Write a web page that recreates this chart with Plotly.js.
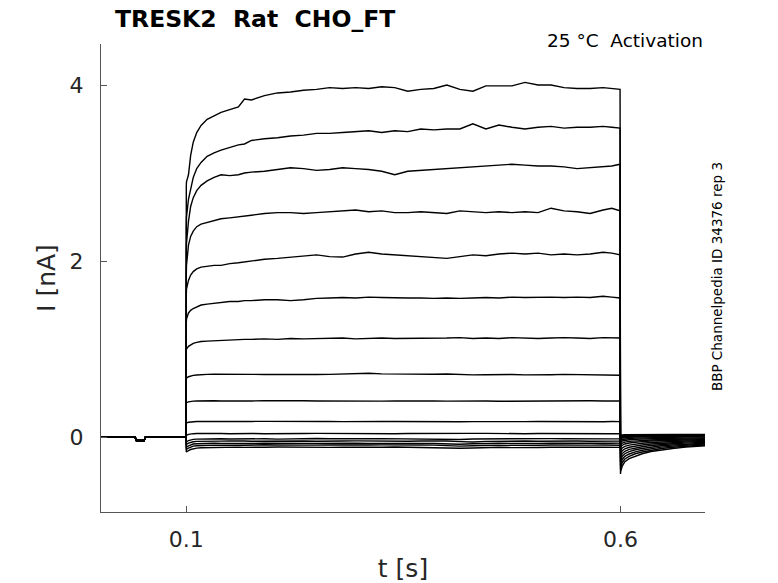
<!DOCTYPE html>
<html>
<head>
<meta charset="utf-8">
<script src="https://cdn.plot.ly/plotly-3.0.1.min.js"></script>
<style>
  html, body { margin: 0; padding: 0; background: #fff; }
  #plot { width: 778px; height: 583px; }
</style>
</head>
<body>
<div id="plot"></div>
<script>
// time points (s) shared by all sweeps
var preT = [0.0017, 0.02, 0.041, 0.0425, 0.0515, 0.053, 0.075, 0.0999];
var preI = [0, 0.003, 0, -0.04, -0.04, 0, 0.002, 0];

var stepT = [0.1, 0.1002, 0.1025, 0.105, 0.108, 0.112, 0.117, 0.124, 0.132, 0.14,
  0.15, 0.16, 0.167, 0.175, 0.19, 0.205, 0.22, 0.235, 0.25, 0.265, 0.28, 0.295,
  0.31, 0.325, 0.34, 0.355, 0.37, 0.385, 0.4, 0.415, 0.43, 0.445, 0.46, 0.475,
  0.49, 0.505, 0.52, 0.535, 0.55, 0.565, 0.58, 0.59, 0.5995];

var tailT = [0.6, 0.6003, 0.602, 0.605, 0.61, 0.617, 0.625, 0.635, 0.647, 0.66, 0.675, 0.69, 0.6973];

// current during the test step (nA), one array per sweep
var step_1 = [2.85, 2.9, 2.98, 3.2, 3.35, 3.46, 3.54, 3.61, 3.65, 3.69, 3.72, 3.75, 3.84, 3.83, 3.88, 3.91, 3.92, 3.94, 3.95, 3.97, 3.96, 3.97, 3.96, 3.98, 3.97, 3.93, 3.95, 3.96, 4.0, 3.95, 3.93, 3.99, 3.99, 3.99, 4.03, 4.0, 4.0, 3.97, 3.96, 3.96, 3.97, 3.96, 3.95];
var step_2 = [2.4, 2.5, 2.7, 2.82, 2.95, 3.05, 3.12, 3.19, 3.23, 3.26, 3.29, 3.32, 3.33, 3.37, 3.39, 3.4, 3.42, 3.43, 3.45, 3.45, 3.46, 3.47, 3.48, 3.46, 3.48, 3.47, 3.5, 3.49, 3.5, 3.5, 3.56, 3.5, 3.545, 3.52, 3.5, 3.52, 3.53, 3.51, 3.52, 3.52, 3.53, 3.52, 3.51];
var step_3 = [2.1, 2.2, 2.45, 2.62, 2.72, 2.8, 2.86, 2.91, 2.95, 2.98, 2.97, 2.98, 3.0, 3.01, 3.02, 3.04, 3.06, 3.05, 3.03, 3.04, 3.06, 3.05, 3.04, 3.02, 2.98, 3.02, 3.03, 3.04, 3.05, 3.06, 3.07, 3.08, 3.09, 3.1, 3.09, 3.08, 3.08, 3.07, 3.05, 3.06, 3.07, 3.08, 3.1];
var step_4 = [1.85, 1.95, 2.18, 2.28, 2.34, 2.39, 2.42, 2.44, 2.46, 2.48, 2.49, 2.5, 2.51, 2.52, 2.54, 2.55, 2.55, 2.54, 2.55, 2.56, 2.57, 2.58, 2.56, 2.57, 2.55, 2.55, 2.56, 2.55, 2.54, 2.57, 2.56, 2.55, 2.56, 2.55, 2.56, 2.55, 2.6, 2.57, 2.56, 2.54, 2.58, 2.6, 2.57];
var step_5 = [1.62, 1.68, 1.78, 1.84, 1.88, 1.91, 1.93, 1.94, 1.95, 1.95, 1.97, 1.98, 1.99, 2.0, 2.02, 2.03, 2.045, 2.06, 2.07, 2.05, 2.045, 2.08, 2.1, 2.08, 2.07, 2.06, 2.05, 2.04, 2.03, 2.05, 2.07, 2.06, 2.08, 2.09, 2.08, 2.09, 2.07, 2.08, 2.07, 2.08, 2.1, 2.09, 2.07];
var step_6 = [1.3, 1.34, 1.41, 1.44, 1.46, 1.48, 1.5, 1.51, 1.52, 1.53, 1.54, 1.54, 1.55, 1.55, 1.56, 1.56, 1.55, 1.56, 1.575, 1.58, 1.585, 1.58, 1.59, 1.585, 1.58, 1.58, 1.58, 1.575, 1.58, 1.575, 1.58, 1.585, 1.58, 1.59, 1.585, 1.59, 1.59, 1.585, 1.59, 1.585, 1.6, 1.59, 1.58];
var step_7 = [0.98, 1.0, 1.03, 1.05, 1.065, 1.075, 1.085, 1.09, 1.095, 1.1, 1.1, 1.105, 1.11, 1.11, 1.115, 1.11, 1.12, 1.115, 1.12, 1.12, 1.125, 1.115, 1.12, 1.125, 1.12, 1.12, 1.125, 1.12, 1.125, 1.13, 1.12, 1.125, 1.12, 1.13, 1.125, 1.12, 1.125, 1.13, 1.125, 1.12, 1.13, 1.125, 1.125];
var step_8 = [0.66, 0.67, 0.685, 0.695, 0.7, 0.705, 0.71, 0.712, 0.715, 0.716, 0.716, 0.714, 0.716, 0.712, 0.71, 0.708, 0.706, 0.705, 0.71, 0.712, 0.715, 0.72, 0.724, 0.718, 0.716, 0.712, 0.71, 0.714, 0.716, 0.71, 0.706, 0.708, 0.712, 0.71, 0.706, 0.704, 0.708, 0.712, 0.708, 0.704, 0.706, 0.705, 0.702];
var step_9 = [0.385, 0.39, 0.4, 0.405, 0.408, 0.41, 0.412, 0.414, 0.412, 0.41, 0.412, 0.415, 0.413, 0.41, 0.412, 0.414, 0.416, 0.412, 0.41, 0.408, 0.41, 0.412, 0.41, 0.408, 0.41, 0.412, 0.414, 0.41, 0.408, 0.41, 0.412, 0.41, 0.406, 0.408, 0.41, 0.412, 0.41, 0.408, 0.41, 0.412, 0.41, 0.408, 0.41];
var step_10 = [0.155, 0.16, 0.168, 0.172, 0.175, 0.176, 0.178, 0.177, 0.175, 0.176, 0.178, 0.176, 0.175, 0.177, 0.178, 0.176, 0.174, 0.176, 0.178, 0.176, 0.175, 0.173, 0.175, 0.177, 0.176, 0.174, 0.176, 0.178, 0.176, 0.174, 0.175, 0.177, 0.176, 0.174, 0.175, 0.176, 0.174, 0.176, 0.177, 0.175, 0.174, 0.176, 0.175];
var step_11 = [0.015, 0.02, 0.03, 0.035, 0.038, 0.04, 0.041, 0.04, 0.042, 0.04, 0.038, 0.04, 0.042, 0.04, 0.038, 0.036, 0.038, 0.04, 0.042, 0.04, 0.038, 0.04, 0.041, 0.039, 0.037, 0.04, 0.042, 0.04, 0.038, 0.04, 0.042, 0.041, 0.038, 0.036, 0.038, 0.04, 0.041, 0.04, 0.038, 0.04, 0.039, 0.038, 0.037];
var step_12 = [-0.06, -0.055, -0.04, -0.032, -0.027, -0.024, -0.022, -0.02, -0.018, -0.02, -0.022, -0.02, -0.018, -0.016, -0.02, -0.024, -0.02, -0.018, -0.016, -0.02, -0.022, -0.025, -0.02, -0.018, -0.02, -0.022, -0.018, -0.02, -0.024, -0.028, -0.022, -0.02, -0.018, -0.02, -0.022, -0.02, -0.018, -0.02, -0.022, -0.02, -0.019, -0.021, -0.02];
var step_13 = [-0.09, -0.085, -0.07, -0.06, -0.054, -0.05, -0.048, -0.046, -0.045, -0.047, -0.044, -0.042, -0.045, -0.048, -0.046, -0.044, -0.042, -0.045, -0.048, -0.05, -0.046, -0.044, -0.046, -0.043, -0.045, -0.048, -0.045, -0.042, -0.046, -0.052, -0.056, -0.05, -0.046, -0.044, -0.046, -0.048, -0.045, -0.043, -0.046, -0.048, -0.045, -0.044, -0.046];
var step_14 = [-0.12, -0.115, -0.1, -0.088, -0.08, -0.076, -0.073, -0.071, -0.07, -0.072, -0.07, -0.068, -0.07, -0.073, -0.071, -0.069, -0.07, -0.072, -0.074, -0.07, -0.068, -0.07, -0.073, -0.071, -0.068, -0.07, -0.072, -0.074, -0.078, -0.082, -0.076, -0.072, -0.07, -0.073, -0.076, -0.072, -0.07, -0.068, -0.07, -0.072, -0.07, -0.071, -0.07];
var step_15 = [-0.145, -0.14, -0.125, -0.112, -0.104, -0.099, -0.096, -0.094, -0.092, -0.093, -0.09, -0.092, -0.094, -0.09, -0.088, -0.091, -0.094, -0.096, -0.092, -0.09, -0.093, -0.095, -0.091, -0.089, -0.092, -0.094, -0.09, -0.092, -0.098, -0.104, -0.1, -0.094, -0.092, -0.095, -0.098, -0.094, -0.091, -0.093, -0.095, -0.092, -0.09, -0.092, -0.093];
var step_16 = [-0.17, -0.168, -0.155, -0.142, -0.132, -0.126, -0.122, -0.12, -0.118, -0.12, -0.117, -0.115, -0.118, -0.12, -0.116, -0.114, -0.117, -0.12, -0.122, -0.118, -0.115, -0.117, -0.12, -0.116, -0.114, -0.118, -0.121, -0.118, -0.122, -0.128, -0.124, -0.118, -0.116, -0.12, -0.123, -0.119, -0.116, -0.118, -0.12, -0.117, -0.115, -0.117, -0.118];

// tail currents after the step (nA)
var tail_1 = [-0.42, -0.39, -0.33, -0.28, -0.245, -0.215, -0.19, -0.165, -0.145, -0.13, -0.115, -0.105, -0.1];
var tail_2 = [-0.37, -0.345, -0.29, -0.25, -0.22, -0.19, -0.17, -0.148, -0.13, -0.117, -0.104, -0.095, -0.09];
var tail_3 = [-0.32, -0.3, -0.255, -0.22, -0.193, -0.168, -0.15, -0.131, -0.115, -0.104, -0.093, -0.085, -0.08];
var tail_4 = [-0.28, -0.26, -0.22, -0.19, -0.166, -0.145, -0.13, -0.114, -0.1, -0.09, -0.08, -0.074, -0.07];
var tail_5 = [-0.24, -0.222, -0.188, -0.162, -0.141, -0.123, -0.11, -0.096, -0.085, -0.077, -0.069, -0.063, -0.06];
var tail_6 = [-0.2, -0.185, -0.156, -0.134, -0.116, -0.101, -0.09, -0.079, -0.07, -0.063, -0.056, -0.052, -0.05];
var tail_7 = [-0.16, -0.148, -0.124, -0.106, -0.092, -0.08, -0.071, -0.062, -0.055, -0.05, -0.045, -0.042, -0.04];
var tail_8 = [-0.12, -0.111, -0.093, -0.079, -0.068, -0.059, -0.052, -0.045, -0.04, -0.036, -0.033, -0.031, -0.03];
var tail_9 = [-0.09, -0.083, -0.069, -0.058, -0.05, -0.043, -0.038, -0.033, -0.029, -0.026, -0.023, -0.021, -0.02];
var tail_10 = [-0.06, -0.055, -0.045, -0.037, -0.031, -0.026, -0.022, -0.019, -0.016, -0.014, -0.012, -0.011, -0.01];
var tail_11 = [-0.04, -0.036, -0.028, -0.022, -0.017, -0.013, -0.01, -0.007, -0.005, -0.003, -0.001, 0.0, 0.0];
var tail_12 = [-0.02, -0.017, -0.011, -0.006, -0.002, 0.001, 0.003, 0.005, 0.006, 0.007, 0.008, 0.009, 0.01];
var tail_13 = [-0.01, -0.007, -0.002, 0.002, 0.005, 0.007, 0.009, 0.01, 0.011, 0.012, 0.013, 0.014, 0.015];
var tail_14 = [0.0, 0.002, 0.006, 0.009, 0.011, 0.013, 0.014, 0.015, 0.016, 0.017, 0.018, 0.019, 0.02];
var tail_15 = [0.01, 0.012, 0.015, 0.017, 0.019, 0.02, 0.021, 0.022, 0.023, 0.023, 0.024, 0.025, 0.025];
var tail_16 = [0.02, 0.021, 0.023, 0.025, 0.026, 0.027, 0.028, 0.028, 0.029, 0.029, 0.03, 0.03, 0.03];

var xTicks = [0.1, 0.6];
var xTickText = ['0.1', '0.6'];
var yTicks = [0, 2, 4];
var yTickText = ['0', '2', '4'];

var steps = [step_1, step_2, step_3, step_4, step_5, step_6, step_7, step_8,
  step_9, step_10, step_11, step_12, step_13, step_14, step_15, step_16];
var tails = [tail_1, tail_2, tail_3, tail_4, tail_5, tail_6, tail_7, tail_8,
  tail_9, tail_10, tail_11, tail_12, tail_13, tail_14, tail_15, tail_16];

var FONT = 'DejaVu Sans, sans-serif';

var traces = [];
for (var i = 0; i < steps.length; i++) {
  traces.push({
    type: 'scatter',
    mode: 'lines',
    x: preT.concat(stepT, tailT),
    y: preI.concat(steps[i], tails[i]),
    line: { color: '#000', width: 1.4 },
    hoverinfo: 'skip'
  });
}

var axisCommon = {
  showgrid: false,
  zeroline: false,
  showline: true,
  linecolor: '#555',
  linewidth: 1,
  ticks: 'inside',
  ticklen: 6,
  tickcolor: '#555',
  tickfont: { family: FONT, size: 22, color: '#262626' }
};

var layout = {
  width: 778,
  height: 583,
  margin: { l: 101, r: 73, t: 44, b: 71 },
  paper_bgcolor: '#fff',
  plot_bgcolor: '#fff',
  showlegend: false,
  title: {
    text: '<b>TRESK2\u00a0 Rat\u00a0 CHO_FT</b>',
    font: { family: FONT, size: 23.5, color: '#000' },
    xref: 'container', yref: 'container',
    x: 115 / 778, xanchor: 'left',
    y: 1 - 19 / 583, yanchor: 'middle'
  },
  xaxis: Object.assign({}, axisCommon, {
    range: [0.00177, 0.6973],
    tickvals: xTicks,
    ticktext: xTickText,
    ticklabelstandoff: 8,
    title: { text: 't [s]', font: { family: FONT, size: 25, color: '#262626' }, standoff: 8 }
  }),
  yaxis: Object.assign({}, axisCommon, {
    range: [-0.852, 4.466],
    tickvals: yTicks,
    ticktext: yTickText,
    ticklabelstandoff: 12,
    title: { text: 'I [nA]', font: { family: FONT, size: 25, color: '#262626' }, standoff: 6 }
  }),
  annotations: [
    {
      text: '25 °C\u00a0 Activation',
      xref: 'paper', yref: 'paper',
      x: 1.0, y: 1.0085,
      xanchor: 'right', yanchor: 'middle',
      showarrow: false,
      font: { family: FONT, size: 18.5, color: '#000' }
    },
    {
      text: 'BBP Channelpedia ID 34376 rep 3',
      xref: 'paper', yref: 'paper',
      x: 1.0199, y: 0.502,
      xanchor: 'center', yanchor: 'middle',
      textangle: -90,
      showarrow: false,
      font: { family: FONT, size: 13.5, color: '#000' }
    }
  ]
};

Plotly.newPlot('plot', traces, layout, { displayModeBar: false, staticPlot: true });
</script>
</body>
</html>
